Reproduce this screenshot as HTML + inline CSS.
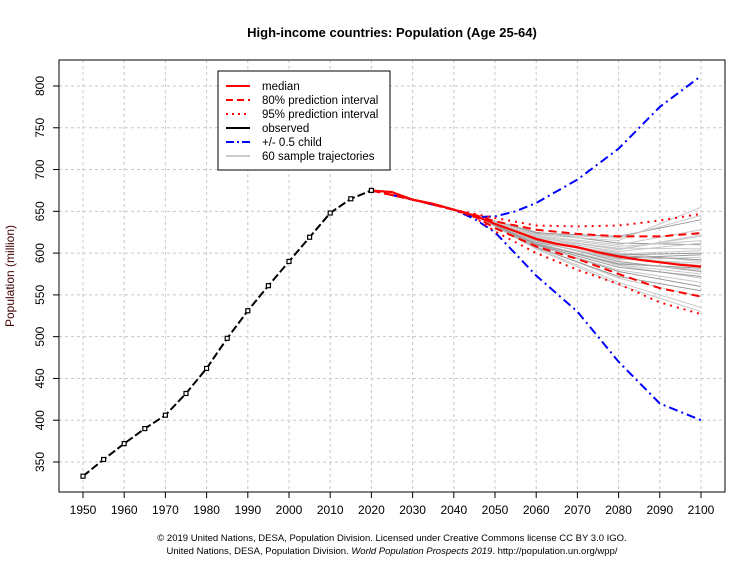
<!DOCTYPE html>
<html><head><meta charset="utf-8"><style>
body{margin:0;background:#fff;font-family:"Liberation Sans",Arial,sans-serif}
</style></head><body>
<svg width="755" height="566" viewBox="0 0 755 566" xmlns="http://www.w3.org/2000/svg" font-family="Liberation Sans, Arial, sans-serif">
<rect width="755" height="566" fill="#fff"/>
<text x="392" y="37" text-anchor="middle" font-size="13" font-weight="bold">High-income countries: Population (Age 25-64)</text>
<g id="grid"></g>
<g id="axes"></g>
<g id="traj"></g>
<g id="series"></g>
<rect x="59" y="60" width="666" height="432" fill="none" stroke="#000"/>
<text transform="translate(14,276) rotate(-90)" text-anchor="middle" font-size="12" fill="#400000">Population (million)</text>
<g>
<rect x="218" y="71" width="172" height="99" fill="#fff" stroke="#000"/>
<line x1="226" x2="250" y1="86" y2="86" stroke="red" stroke-width="2"/>
<text x="262" y="90" font-size="11.5">median</text>
<line x1="226" x2="250" y1="100" y2="100" stroke="red" stroke-width="2" stroke-dasharray="7,4"/>
<text x="262" y="104" font-size="11.5">80% prediction interval</text>
<line x1="226" x2="250" y1="114" y2="114" stroke="red" stroke-width="2" stroke-dasharray="2,4"/>
<text x="262" y="118" font-size="11.5">95% prediction interval</text>
<line x1="226" x2="250" y1="128" y2="128" stroke="#000" stroke-width="2"/>
<text x="262" y="132" font-size="11.5">observed</text>
<line x1="226" x2="250" y1="142" y2="142" stroke="blue" stroke-width="2" stroke-dasharray="8,3,2,3"/>
<text x="262" y="146" font-size="11.5">+/- 0.5 child</text>
<line x1="226" x2="250" y1="156" y2="156" stroke="#bbb" stroke-width="1.5"/>
<text x="262" y="160" font-size="11.5">60 sample trajectories</text>
</g>
<text x="392" y="541" text-anchor="middle" font-size="9.5">© 2019 United Nations, DESA, Population Division. Licensed under Creative Commons license CC BY 3.0 IGO.</text>
<text x="392" y="554" text-anchor="middle" font-size="9.5">United Nations, DESA, Population Division. <tspan font-style="italic">World Population Prospects 2019</tspan>. http://population.un.org/wpp/</text>
</svg>
<script>
const xTicks=[1950,1960,1970,1980,1990,2000,2010,2020,2030,2040,2050,2060,2070,2080,2090,2100];
const yTicks=[350,400,450,500,550,600,650,700,750,800];
const obsYears=[1950,1955,1960,1965,1970,1975,1980,1985,1990,1995,2000,2005,2010,2015,2020];
const obsVals=[333,353,372,390,406,432,462,498,531,561,590,619,648,665,675];
const projYears=[2020,2025,2030,2035,2040,2045,2050,2055,2060,2065,2070,2075,2080,2085,2090,2095,2100];
const median=[675,673,664,659,652,645,635,626,617,611,607,601,596,592,589,586,584];
const pi80Years=[2020,2030,2040,2045,2050,2060,2070,2080,2090,2100];
const pi80Up=[675,664,652,646,638,628,623,620,620,624];
const pi80Lo=[675,664,652,644,630,608,593,575,558,548];
const pi95Up=[675,664,652,647,642,633,632,633,639,647];
const pi95Lo=[675,664,652,643,626,600,580,563,541,527];
const blueUpYears=[2020,2030,2040,2045,2050,2055,2060,2070,2080,2090,2100];
const blueUp=[675,664,652,643,644,650,660,688,725,775,812];
const blueLoYears=[2020,2030,2040,2045,2050,2060,2070,2080,2090,2100];
const blueLo=[675,664,652,641,625,573,530,470,420,400];
const trajYears=[2045,2060,2080,2100];
const traj2060=[625,620,618,615,612,622,610,608,619,616,614,611,624,606,617,613,609,621,615,612,618,607,623,614,610,620,616,611,605,619];
const traj2080=[612,600,596,590,585,615,578,570,605,598,592,586,620,565,602,594,580,610,597,588,606,572,618,593,583,608,599,587,562,604];
const traj2100=[610,590,585,578,570,655,560,548,620,600,595,575,640,535,612,598,565,628,592,580,605,555,645,588,572,615,603,582,530,622];
const X=y=>83+(y-1950)*618/150;
const Y=v=>86+(800-v)*(462-86)/450;
const NS="http://www.w3.org/2000/svg";
function mk(tag,parent,attrs){const e=document.createElementNS(NS,tag);for(const k in attrs)e.setAttribute(k,attrs[k]);parent.appendChild(e);return e;}
const grid=document.getElementById('grid'),axes=document.getElementById('axes');
xTicks.forEach(t=>{
 const g=mk('line',grid,{x1:X(t),x2:X(t),y1:60,y2:492,stroke:'#c8c8c8','stroke-dasharray':'3,3'});
 
 
 const tk=mk('line',axes,{x1:X(t),x2:X(t),y1:492,y2:498,stroke:'#000'});
 
 
 const l=mk('text',axes,{x:X(t),y:514,'text-anchor':'middle','font-size':12});l.textContent=t;
 
 
});
yTicks.forEach(t=>{
 const g=mk('line',grid,{x1:59,x2:725,y1:Y(t),y2:Y(t),stroke:'#c8c8c8','stroke-dasharray':'3,3'});
 
 
 const tk=mk('line',axes,{x1:53,x2:59,y1:Y(t),y2:Y(t),stroke:'#000'});
 
 
 const l=mk('text',axes,{x:0,y:0,'text-anchor':'middle','font-size':12,transform:`translate(44,${Y(t)}) rotate(-90)`});l.textContent=t;
 
 
});
const trajG=document.getElementById('traj');
for(let i=0;i<traj2100.length;i++){
 const vals=[645,traj2060[i],traj2080[i],traj2100[i]];
 const p=mk('polyline',trajG,{points:trajYears.map((y,j)=>X(y)+','+Y(vals[j])).join(' '),fill:'none',stroke:i%3?'#c8c8c8':'#999',"stroke-width":1});
 
 
}
const S=document.getElementById('series');
function line(ys,vs,attrs,name){const p=mk('polyline',S,Object.assign({points:ys.map((y,i)=>X(y)+','+Y(vs[i])).join(' '),fill:'none'},attrs));
 
 }
line(blueUpYears,blueUp,{stroke:'blue','stroke-width':2,'stroke-dasharray':'9,4,2,4'},'upper-half-child');
line(blueLoYears,blueLo,{stroke:'blue','stroke-width':2,'stroke-dasharray':'9,4,2,4'},'lower-half-child');
line(pi80Years,pi95Up,{stroke:'red','stroke-width':2,'stroke-dasharray':'2,5'},'pi95-upper');
line(pi80Years,pi95Lo,{stroke:'red','stroke-width':2,'stroke-dasharray':'2,5'},'pi95-lower');
line(pi80Years,pi80Up,{stroke:'red','stroke-width':2,'stroke-dasharray':'8,5'},'pi80-upper');
line(pi80Years,pi80Lo,{stroke:'red','stroke-width':2,'stroke-dasharray':'8,5'},'pi80-lower');
line(projYears,median,{stroke:'red','stroke-width':2.2},'median-line');
line(obsYears,obsVals,{stroke:'#000','stroke-width':2,'stroke-dasharray':'8,3'},'observed-line');
obsYears.forEach((y,i)=>{
 const r=mk('rect',S,{x:X(y)-2,y:Y(obsVals[i])-2,width:4,height:4,fill:'#fff',stroke:'#000','stroke-width':1.2});
 
 
});
</script>
</body></html>
